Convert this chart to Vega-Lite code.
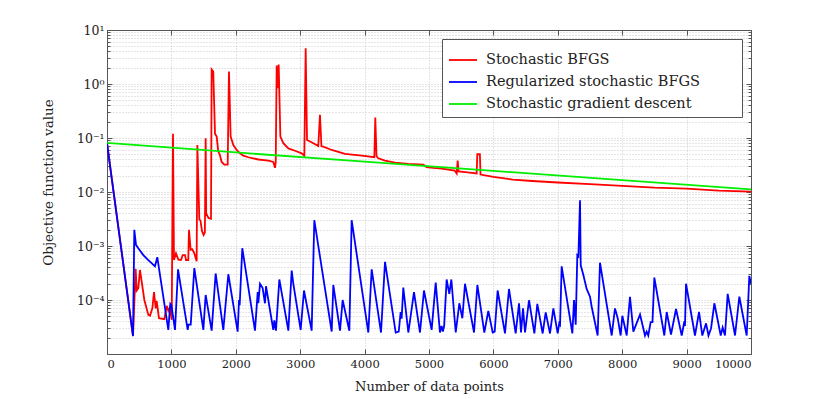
{
  "$schema": "https://vega.github.io/schema/vega-lite/v6.json",
  "width": 644,
  "height": 324,
  "autosize": {"type": "none"},
  "padding": {"left": 107, "top": 30, "right": 79, "bottom": 45},
  "background": "white",
  "config": {
    "view": {"stroke": null},
    "font": "DejaVu Serif",
    "axis": {
      "labelFont": "DejaVu Serif",
      "titleFont": "DejaVu Serif",
      "labelFontSize": 11.5,
      "titleFontSize": 13,
      "titleFontWeight": "normal",
      "labelColor": "#222",
      "titleColor": "#222",
      "domainColor": "#555",
      "tickColor": "#555",
      "gridColor": "#bdbdbd",
      "gridDash": [1, 2],
      "gridWidth": 0.8
    }
  },
  "datasets": {
    "red": [
      {"x": 0, "y": 0.08}, {"x": 404, "y": 0.0000215}, {"x": 445, "y": 0.00038}, {"x": 461, "y": 0.00015},
      {"x": 486, "y": 0.000166}, {"x": 512, "y": 0.00036}, {"x": 580, "y": 0.0001}, {"x": 642, "y": 0.000053},
      {"x": 668, "y": 0.000051}, {"x": 704, "y": 0.00007}, {"x": 730, "y": 0.00014}, {"x": 756, "y": 0.00007},
      {"x": 771, "y": 0.000096}, {"x": 807, "y": 0.000046}, {"x": 890, "y": 0.000044}, {"x": 927, "y": 0.000078},
      {"x": 952, "y": 0.000063}, {"x": 978, "y": 0.000074}, {"x": 1005, "y": 0.000043}, {"x": 1025, "y": 0.12},
      {"x": 1040, "y": 0.00055}, {"x": 1071, "y": 0.00073}, {"x": 1108, "y": 0.00056}, {"x": 1149, "y": 0.00055},
      {"x": 1175, "y": 0.00068}, {"x": 1211, "y": 0.00068}, {"x": 1227, "y": 0.00055}, {"x": 1262, "y": 0.00055},
      {"x": 1273, "y": 0.002}, {"x": 1299, "y": 0.00085}, {"x": 1325, "y": 0.00087}, {"x": 1356, "y": 0.00073},
      {"x": 1392, "y": 0.00052}, {"x": 1403, "y": 0.074}, {"x": 1434, "y": 0.0031}, {"x": 1450, "y": 0.003},
      {"x": 1475, "y": 0.0019}, {"x": 1500, "y": 0.0016}, {"x": 1520, "y": 0.0018}, {"x": 1532, "y": 0.099},
      {"x": 1540, "y": 0.004}, {"x": 1575, "y": 0.0033}, {"x": 1615, "y": 0.0032}, {"x": 1625, "y": 1.86},
      {"x": 1650, "y": 1.7}, {"x": 1677, "y": 0.12}, {"x": 1703, "y": 0.106}, {"x": 1728, "y": 0.056},
      {"x": 1750, "y": 0.05}, {"x": 1780, "y": 0.036}, {"x": 1822, "y": 0.032}, {"x": 1874, "y": 0.032},
      {"x": 1894, "y": 1.7}, {"x": 1920, "y": 0.106}, {"x": 1962, "y": 0.074}, {"x": 2013, "y": 0.06},
      {"x": 2065, "y": 0.052}, {"x": 2117, "y": 0.047}, {"x": 2194, "y": 0.044}, {"x": 2350, "y": 0.04},
      {"x": 2505, "y": 0.038}, {"x": 2582, "y": 0.036}, {"x": 2609, "y": 0.028}, {"x": 2620, "y": 0.036},
      {"x": 2635, "y": 2.2}, {"x": 2650, "y": 0.84}, {"x": 2666, "y": 2.3}, {"x": 2692, "y": 0.106},
      {"x": 2738, "y": 0.08}, {"x": 2816, "y": 0.064}, {"x": 2919, "y": 0.058}, {"x": 3023, "y": 0.052},
      {"x": 3064, "y": 0.047}, {"x": 3085, "y": 4.6}, {"x": 3106, "y": 0.092}, {"x": 3152, "y": 0.086},
      {"x": 3204, "y": 0.08}, {"x": 3281, "y": 0.071}, {"x": 3307, "y": 0.27}, {"x": 3330, "y": 0.07},
      {"x": 3359, "y": 0.069}, {"x": 3489, "y": 0.06}, {"x": 3696, "y": 0.051}, {"x": 3955, "y": 0.047},
      {"x": 4151, "y": 0.044}, {"x": 4166, "y": 0.24}, {"x": 4185, "y": 0.046}, {"x": 4213, "y": 0.042},
      {"x": 4317, "y": 0.038}, {"x": 4472, "y": 0.035}, {"x": 4679, "y": 0.033}, {"x": 4912, "y": 0.032},
      {"x": 4964, "y": 0.029}, {"x": 5067, "y": 0.028}, {"x": 5200, "y": 0.027}, {"x": 5400, "y": 0.025},
      {"x": 5430, "y": 0.022}, {"x": 5445, "y": 0.038}, {"x": 5460, "y": 0.024}, {"x": 5600, "y": 0.023},
      {"x": 5740, "y": 0.022}, {"x": 5750, "y": 0.05}, {"x": 5790, "y": 0.05}, {"x": 5800, "y": 0.021},
      {"x": 6000, "y": 0.019}, {"x": 6300, "y": 0.017}, {"x": 6600, "y": 0.016}, {"x": 7000, "y": 0.015},
      {"x": 7500, "y": 0.014}, {"x": 8000, "y": 0.013}, {"x": 8500, "y": 0.012}, {"x": 9000, "y": 0.0115},
      {"x": 9500, "y": 0.0106}, {"x": 10000, "y": 0.0102}
    ],
    "blue": [
      {"x": 0, "y": 0.08}, {"x": 404, "y": 0.0000215}, {"x": 424, "y": 0.002}, {"x": 450, "y": 0.00105},
      {"x": 486, "y": 0.00091}, {"x": 564, "y": 0.00068}, {"x": 642, "y": 0.00055}, {"x": 745, "y": 0.00042},
      {"x": 781, "y": 0.00062}, {"x": 952, "y": 0.000028}, {"x": 983, "y": 0.000085}, {"x": 1000, "y": 0.00008},
      {"x": 1056, "y": 0.000028}, {"x": 1103, "y": 0.00037}, {"x": 1253, "y": 0.000028}, {"x": 1265, "y": 0.000035},
      {"x": 1300, "y": 0.000035}, {"x": 1356, "y": 0.00039}, {"x": 1496, "y": 0.000028}, {"x": 1532, "y": 0.000124},
      {"x": 1625, "y": 0.000027}, {"x": 1687, "y": 0.00031}, {"x": 1806, "y": 0.000028}, {"x": 1884, "y": 0.0003},
      {"x": 2029, "y": 0.000026}, {"x": 2050, "y": 0.0001}, {"x": 2060, "y": 0.00008}, {"x": 2101, "y": 0.00091},
      {"x": 2298, "y": 0.000027}, {"x": 2340, "y": 0.00014}, {"x": 2350, "y": 0.000087}, {"x": 2376, "y": 0.0002},
      {"x": 2417, "y": 0.000166}, {"x": 2453, "y": 0.000087}, {"x": 2469, "y": 0.00018}, {"x": 2505, "y": 0.0001},
      {"x": 2582, "y": 0.000028}, {"x": 2598, "y": 0.000042}, {"x": 2624, "y": 0.000027}, {"x": 2676, "y": 0.00024},
      {"x": 2816, "y": 0.000027}, {"x": 2868, "y": 0.00035}, {"x": 2893, "y": 0.0002}, {"x": 3007, "y": 0.000028},
      {"x": 3059, "y": 0.00015}, {"x": 3178, "y": 0.000027}, {"x": 3219, "y": 0.003}, {"x": 3489, "y": 0.000026},
      {"x": 3514, "y": 0.00019}, {"x": 3618, "y": 0.000027}, {"x": 3659, "y": 0.0001}, {"x": 3763, "y": 0.000027},
      {"x": 3799, "y": 0.003}, {"x": 4058, "y": 0.000025}, {"x": 4110, "y": 0.00037}, {"x": 4255, "y": 0.000025},
      {"x": 4317, "y": 0.00051}, {"x": 4483, "y": 0.000025}, {"x": 4530, "y": 0.000026}, {"x": 4560, "y": 0.00006},
      {"x": 4575, "y": 0.000045}, {"x": 4601, "y": 0.00017}, {"x": 4679, "y": 0.000025}, {"x": 4767, "y": 0.00014},
      {"x": 4860, "y": 0.000025}, {"x": 4922, "y": 0.00015}, {"x": 5041, "y": 0.000028}, {"x": 5104, "y": 0.00021},
      {"x": 5170, "y": 0.000025}, {"x": 5195, "y": 0.000033}, {"x": 5215, "y": 0.000026}, {"x": 5235, "y": 0.000033},
      {"x": 5274, "y": 0.00024}, {"x": 5315, "y": 0.00013}, {"x": 5347, "y": 0.00024}, {"x": 5415, "y": 0.000025},
      {"x": 5471, "y": 0.000087}, {"x": 5518, "y": 0.000046}, {"x": 5559, "y": 0.0002}, {"x": 5699, "y": 0.000025},
      {"x": 5751, "y": 0.00019}, {"x": 5859, "y": 0.000025}, {"x": 5921, "y": 0.000063}, {"x": 5989, "y": 0.000025},
      {"x": 6020, "y": 0.000026}, {"x": 6066, "y": 0.00015}, {"x": 6180, "y": 0.000024}, {"x": 6242, "y": 0.00016},
      {"x": 6346, "y": 0.000024}, {"x": 6398, "y": 0.000087}, {"x": 6429, "y": 0.000025}, {"x": 6460, "y": 0.00007},
      {"x": 6491, "y": 0.000025}, {"x": 6553, "y": 0.000099}, {"x": 6636, "y": 0.000024}, {"x": 6682, "y": 0.000085},
      {"x": 6765, "y": 0.000024}, {"x": 6812, "y": 0.000059}, {"x": 6879, "y": 0.000024}, {"x": 6931, "y": 0.00007},
      {"x": 6998, "y": 0.000024}, {"x": 7023, "y": 0.000037}, {"x": 7035, "y": 0.000035}, {"x": 7060, "y": 0.00042},
      {"x": 7226, "y": 0.000024}, {"x": 7252, "y": 0.0001}, {"x": 7278, "y": 0.000035}, {"x": 7303, "y": 0.00068},
      {"x": 7320, "y": 0.00065}, {"x": 7345, "y": 0.007}, {"x": 7356, "y": 0.00044}, {"x": 7397, "y": 0.00029},
      {"x": 7448, "y": 0.00016}, {"x": 7500, "y": 0.000115}, {"x": 7526, "y": 0.000075}, {"x": 7619, "y": 0.000022},
      {"x": 7655, "y": 0.00049}, {"x": 7837, "y": 0.000022}, {"x": 7888, "y": 0.00007}, {"x": 7930, "y": 0.000046},
      {"x": 7976, "y": 0.000022}, {"x": 8002, "y": 0.000051}, {"x": 8070, "y": 0.000022}, {"x": 8121, "y": 0.000115},
      {"x": 8173, "y": 0.000026}, {"x": 8277, "y": 0.000054}, {"x": 8354, "y": 0.000022}, {"x": 8380, "y": 0.000026},
      {"x": 8405, "y": 0.000022}, {"x": 8442, "y": 0.000039}, {"x": 8470, "y": 0.000039}, {"x": 8499, "y": 0.00026},
      {"x": 8654, "y": 0.000022}, {"x": 8691, "y": 0.00006}, {"x": 8758, "y": 0.000023}, {"x": 8836, "y": 0.000068},
      {"x": 8924, "y": 0.000022}, {"x": 8965, "y": 0.00004}, {"x": 8975, "y": 0.000033}, {"x": 8991, "y": 0.0002},
      {"x": 9130, "y": 0.000022}, {"x": 9193, "y": 0.00006}, {"x": 9244, "y": 0.000022}, {"x": 9302, "y": 0.000037},
      {"x": 9340, "y": 0.000022}, {"x": 9380, "y": 0.00003}, {"x": 9431, "y": 0.000087}, {"x": 9530, "y": 0.000022},
      {"x": 9560, "y": 0.000031}, {"x": 9596, "y": 0.000022}, {"x": 9638, "y": 0.00013}, {"x": 9752, "y": 0.000022},
      {"x": 9819, "y": 0.000115}, {"x": 9933, "y": 0.000022}, {"x": 9974, "y": 0.00028}, {"x": 10000, "y": 0.0002}
    ],
    "green": [
      {"x": 0, "y": 0.081}, {"x": 2000, "y": 0.054}, {"x": 4000, "y": 0.0366}, {"x": 6000, "y": 0.0246},
      {"x": 8000, "y": 0.0166}, {"x": 10000, "y": 0.0112}
    ]
  },
  "encoding": {
    "x": {"field": "x", "type": "quantitative", "scale": {"domain": [0, 10000], "nice": false}},
    "y": {"field": "y", "type": "quantitative", "scale": {"type": "log", "domain": [0.00001, 10], "nice": false}}
  },
  "layer": [
    {
      "data": {"name": "red"},
      "mark": {"type": "line", "strokeWidth": 1.8, "clip": true},
      "encoding": {
        "x": {
          "field": "x", "type": "quantitative",
          "axis": {
            "orient": "bottom", "title": "Number of data points", "format": "d",
            "values": [0, 1000, 2000, 3000, 4000, 5000, 6000, 7000, 8000, 9000, 10000],
            "grid": true, "tickSize": -5, "labelPadding": 9, "titleY": 32, "titleBaseline": "middle"
          }
        },
        "y": {
          "field": "y", "type": "quantitative",
          "axis": {
            "orient": "left", "title": "Objective function value",
            "values": [0.00001, 0.00002, 0.00003, 0.00004, 0.00005, 0.00006, 0.00007, 0.00008, 0.00009,
                       0.0001, 0.0002, 0.0003, 0.0004, 0.0005, 0.0006, 0.0007, 0.0008, 0.0009,
                       0.001, 0.002, 0.003, 0.004, 0.005, 0.006, 0.007, 0.008, 0.009,
                       0.01, 0.02, 0.03, 0.04, 0.05, 0.06, 0.07, 0.08, 0.09,
                       0.1, 0.2, 0.3, 0.4, 0.5, 0.6, 0.7, 0.8, 0.9,
                       1, 2, 3, 4, 5, 6, 7, 8, 9, 10],
            "labelExpr": "datum.value==10?'10¹':datum.value==1?'10⁰':datum.value==0.1?'10⁻¹':datum.value==0.01?'10⁻²':datum.value==0.001?'10⁻³':datum.value==0.0001?'10⁻⁴':''",
            "grid": true,
            "tickSize": {"condition": {"test": "datum.value==10||datum.value==1||datum.value==0.1||datum.value==0.01||datum.value==0.001||datum.value==0.0001||datum.value==0.00001", "value": -5}, "value": -3},
            "labelPadding": 8,
            "labelFontSize": 12.5,
            "labelOverlap": false,
            "titleX": -59, "titleY": 152, "titleBaseline": "middle", "titleAngle": -90, "titleFontSize": 13.5
          }
        },
        "color": {
          "datum": "Stochastic BFGS",
          "scale": {
            "domain": ["Stochastic BFGS", "Regularized stochastic BFGS", "Stochastic gradient descent"],
            "range": ["#ff0000", "#0000ff", "#00ee00"]
          },
          "legend": {
            "title": "\u2800\u2800\u2800", "titleOrient": "right", "titleAngle": 0, "titleOpacity": 0,
            "titleFontSize": 14.5, "titleFont": "DejaVu Sans", "titlePadding": 2,
            "orient": "top-right", "offset": 9,
            "padding": 6, "strokeColor": "#555", "fillColor": "white",
            "symbolType": "stroke", "symbolSize": 784, "symbolStrokeWidth": 1.8,
            "labelFont": "DejaVu Serif", "labelFontSize": 14.5, "labelColor": "#222", "labelLimit": 400,
            "rowPadding": -5, "labelOffset": 8, "cornerRadius": 0
          }
        }
      }
    },
    {
      "data": {"name": "blue"},
      "mark": {"type": "line", "strokeWidth": 1.8, "clip": true},
      "encoding": {
        "x": {"field": "x", "type": "quantitative", "axis": null},
        "y": {"field": "y", "type": "quantitative", "axis": null},
        "color": {"datum": "Regularized stochastic BFGS"}
      }
    },
    {
      "data": {"name": "green"},
      "mark": {"type": "line", "strokeWidth": 1.8, "clip": true},
      "encoding": {
        "x": {"field": "x", "type": "quantitative", "axis": null},
        "y": {"field": "y", "type": "quantitative", "axis": null},
        "color": {"datum": "Stochastic gradient descent"}
      }
    },
    {
      "data": {"name": "green"},
      "mark": {"type": "line", "strokeOpacity": 0, "clip": true},
      "encoding": {
        "x": {
          "field": "x", "type": "quantitative",
          "axis": {"orient": "top", "title": null, "labels": false, "grid": false, "tickSize": -5,
                   "values": [0, 1000, 2000, 3000, 4000, 5000, 6000, 7000, 8000, 9000, 10000]}
        },
        "y": {
          "field": "y", "type": "quantitative",
          "axis": {
            "orient": "right", "title": null, "labels": false, "grid": false,
            "values": [0.00001, 0.00002, 0.00003, 0.00004, 0.00005, 0.00006, 0.00007, 0.00008, 0.00009,
                       0.0001, 0.0002, 0.0003, 0.0004, 0.0005, 0.0006, 0.0007, 0.0008, 0.0009,
                       0.001, 0.002, 0.003, 0.004, 0.005, 0.006, 0.007, 0.008, 0.009,
                       0.01, 0.02, 0.03, 0.04, 0.05, 0.06, 0.07, 0.08, 0.09,
                       0.1, 0.2, 0.3, 0.4, 0.5, 0.6, 0.7, 0.8, 0.9,
                       1, 2, 3, 4, 5, 6, 7, 8, 9, 10],
            "tickSize": {"condition": {"test": "datum.value==10||datum.value==1||datum.value==0.1||datum.value==0.01||datum.value==0.001||datum.value==0.0001||datum.value==0.00001", "value": -5}, "value": -3}
          }
        }
      }
    }
  ],
  "resolve": {"axis": {"x": "independent", "y": "independent"}}
}
